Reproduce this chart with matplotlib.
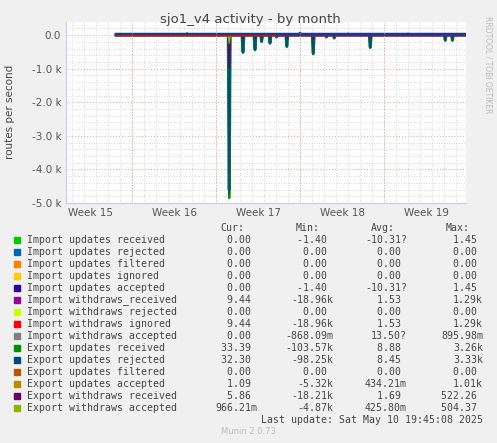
import matplotlib
matplotlib.use("Agg")
import matplotlib.pyplot as plt
import numpy as np

W, H = 497, 443
names = ["Import updates received", "Import updates rejected", "Import updates filtered",
         "Import updates ignored", "Import updates accepted", "Import withdraws_received",
         "Import withdraws rejected", "Import withdraws ignored", "Import withdraws accepted",
         "Export updates received", "Export updates rejected", "Export updates filtered",
         "Export updates accepted", "Export withdraws received", "Export withdraws accepted"]
colors = ["#00CC00", "#0066B3", "#FF8000", "#FFCC00", "#330099", "#990099", "#CCFF00",
          "#FF0000", "#808080", "#008F00", "#00487D", "#B35A00", "#B38F00", "#6B006B", "#8FB300"]
cur = ["0.00 ", "0.00 ", "0.00 ", "0.00 ", "0.00 ", "9.44 ", "0.00 ", "9.44 ", "0.00 ",
       "33.39 ", "32.30 ", "0.00 ", "1.09 ", "5.86 ", "966.21m"]
mins = ["-1.40 ", "0.00 ", "0.00 ", "0.00 ", "-1.40 ", "-18.96k", "0.00 ", "-18.96k", "-868.09m",
        "-103.57k", "-98.25k", "0.00 ", "-5.32k", "-18.21k", "-4.87k"]
avgs = ["-10.31?", "0.00 ", "0.00 ", "0.00 ", "-10.31?", "1.53 ", "0.00 ", "1.53 ", "13.50?",
        "8.88 ", "8.45 ", "0.00 ", "434.21m", "1.69 ", "425.80m"]
maxs = ["1.45 ", "0.00 ", "0.00 ", "0.00 ", "1.45 ", "1.29k", "0.00 ", "1.29k", "895.98m",
        "3.26k", "3.33k", "0.00 ", "1.01k", "522.26 ", "504.37 "]

# data in days relative to start of week 16; spikes (time, value in routes/s)
start_day, end_day = -1.33, 27.8
spike_t = [8.1, 9.25, 10.25, 10.8, 11.5, 12.05, 12.9, 15.1, 16.2, 16.85, 19.85, 26.1, 26.7, 4.6, 14.0, 18.0, 23.0]
spike_v = [-4850, -530, -450, -200, -250, -60, -350, -570, -60, -90, -380, -160, -160, 40, 60, 30, 30]
week_labels = ["Week 15", "Week 16", "Week 17", "Week 18", "Week 19"]
week_centers = [-3.5, 3.5, 10.5, 17.5, 24.5]
week_bounds = [0, 7, 14, 21]

fig = plt.figure(figsize=(W/100, H/100), dpi=100, facecolor="#F0F0F0")
ax = fig.add_axes([66/W, 1-203/H, 400/W, (203-22)/H])
ax.set_facecolor("white")

order = np.argsort(spike_t)
ts = [start_day]; vs = [0]
for i in order:
    t, v = spike_t[i], spike_v[i]
    ts += [t-0.08, t, t+0.08]; vs += [0, v, 0]
ts.append(end_day); vs.append(0)
ts = np.array(ts); vs = np.array(vs)
scale = {9: 1.0, 10: 0.97, 12: 0.05, 13: 0.2, 14: 0.05, 5: 0.18, 7: 0.18}
lws = {9: 1.6, 10: 1.3}
ax.plot(ts, vs*0.95, color="#1A7A7A", lw=2.2)
for k, c in enumerate(colors):
    f = scale.get(k, 0.0)
    ax.plot(ts, vs*f, color=c, lw=lws.get(k, 1.0), alpha=0.85 if k == 10 else 1)
ax.plot([start_day, end_day], [20, 20], color="#00487D", lw=2.5)
ax.plot([start_day, end_day], [5, 5], color="#990099", lw=1)
ax.plot([start_day, 12], [-5, -5], color="#FF0000", lw=0.8)

ax.set_xlim(-5.5, 27.83)
ax.set_ylim(-5000, 390)
ax.set_yticks([0, -1000, -2000, -3000, -4000, -5000])
ax.set_yticklabels(["0.0", "-1.0 k", "-2.0 k", "-3.0 k", "-4.0 k", "-5.0 k"])
ax.set_yticks(np.arange(-5000, 390, 200), minor=True)
ax.set_xticks(week_centers)
ax.set_xticklabels(week_labels)
ax.set_xticks(np.arange(-5, 28, 1), minor=True)
ax.grid(which="minor", color="#CCCCCC", ls=(0, (1, 2)), lw=0.6)
ax.grid(which="major", visible=False)
for b in week_bounds:
    ax.axvline(b, color="#E8A0A0", ls=(0, (1, 2)), lw=0.7)
for yv in [0, -1000, -2000, -3000, -4000]:
    ax.axhline(yv, color="#E8A0A0", ls=(0, (1, 2)), lw=0.7, zorder=0.5)
ax.tick_params(which="both", length=0, labelsize=7.5, colors="#555555")
for s in ax.spines.values():
    s.set_visible(False)
ax.spines["left"].set_visible(True); ax.spines["left"].set_color("#C8C8FF")
ax.spines["bottom"].set_visible(True); ax.spines["bottom"].set_color("#C8C8FF")

fig.text(250/W, 1-20/H, "sjo1_v4 activity - by month", ha="center", va="center", fontsize=9.5, color="#444444")
fig.text(10/W, 1-112/H, "routes per second", rotation=90, ha="center", va="center", fontsize=7.5, color="#444444")
fig.text(488/W, 1-65/H, "RRDTOOL / TOBI OETIKER", rotation=270, ha="center", va="center", fontsize=5.5, color="#BBBBBB")

mono = dict(family="DejaVu Sans Mono", fontsize=7.1, color="#444444", va="center")
for x, h in [(244, "Cur:"), (320, "Min:"), (395, "Avg:"), (470, "Max:")]:
    fig.text(x/W, 1-227.7/H, h, ha="right", **mono)
for i in range(15):
    y = 1-(239.7+12*i)/H
    fig.patches.append(plt.Rectangle((14/W, y-3/H), 6/W, 6/H, color=colors[i], transform=fig.transFigure))
    fig.text(27/W, y, names[i], ha="left", **mono)
    fig.text(257/W, y, cur[i], ha="right", **mono)
    fig.text(333/W, y, mins[i], ha="right", **mono)
    fig.text(407/W, y, avgs[i], ha="right", **mono)
    fig.text(483/W, y, maxs[i], ha="right", **mono)
fig.text(483/W, 1-419.7/H, "Last update: Sat May 10 19:45:08 2025", ha="right", **mono)
fig.text(248/W, 1-432/H, "Munin 2.0.73", ha="center", va="center", fontsize=6, color="#BBBBBB")
fig.savefig("out.png", dpi=100, facecolor=fig.get_facecolor())
